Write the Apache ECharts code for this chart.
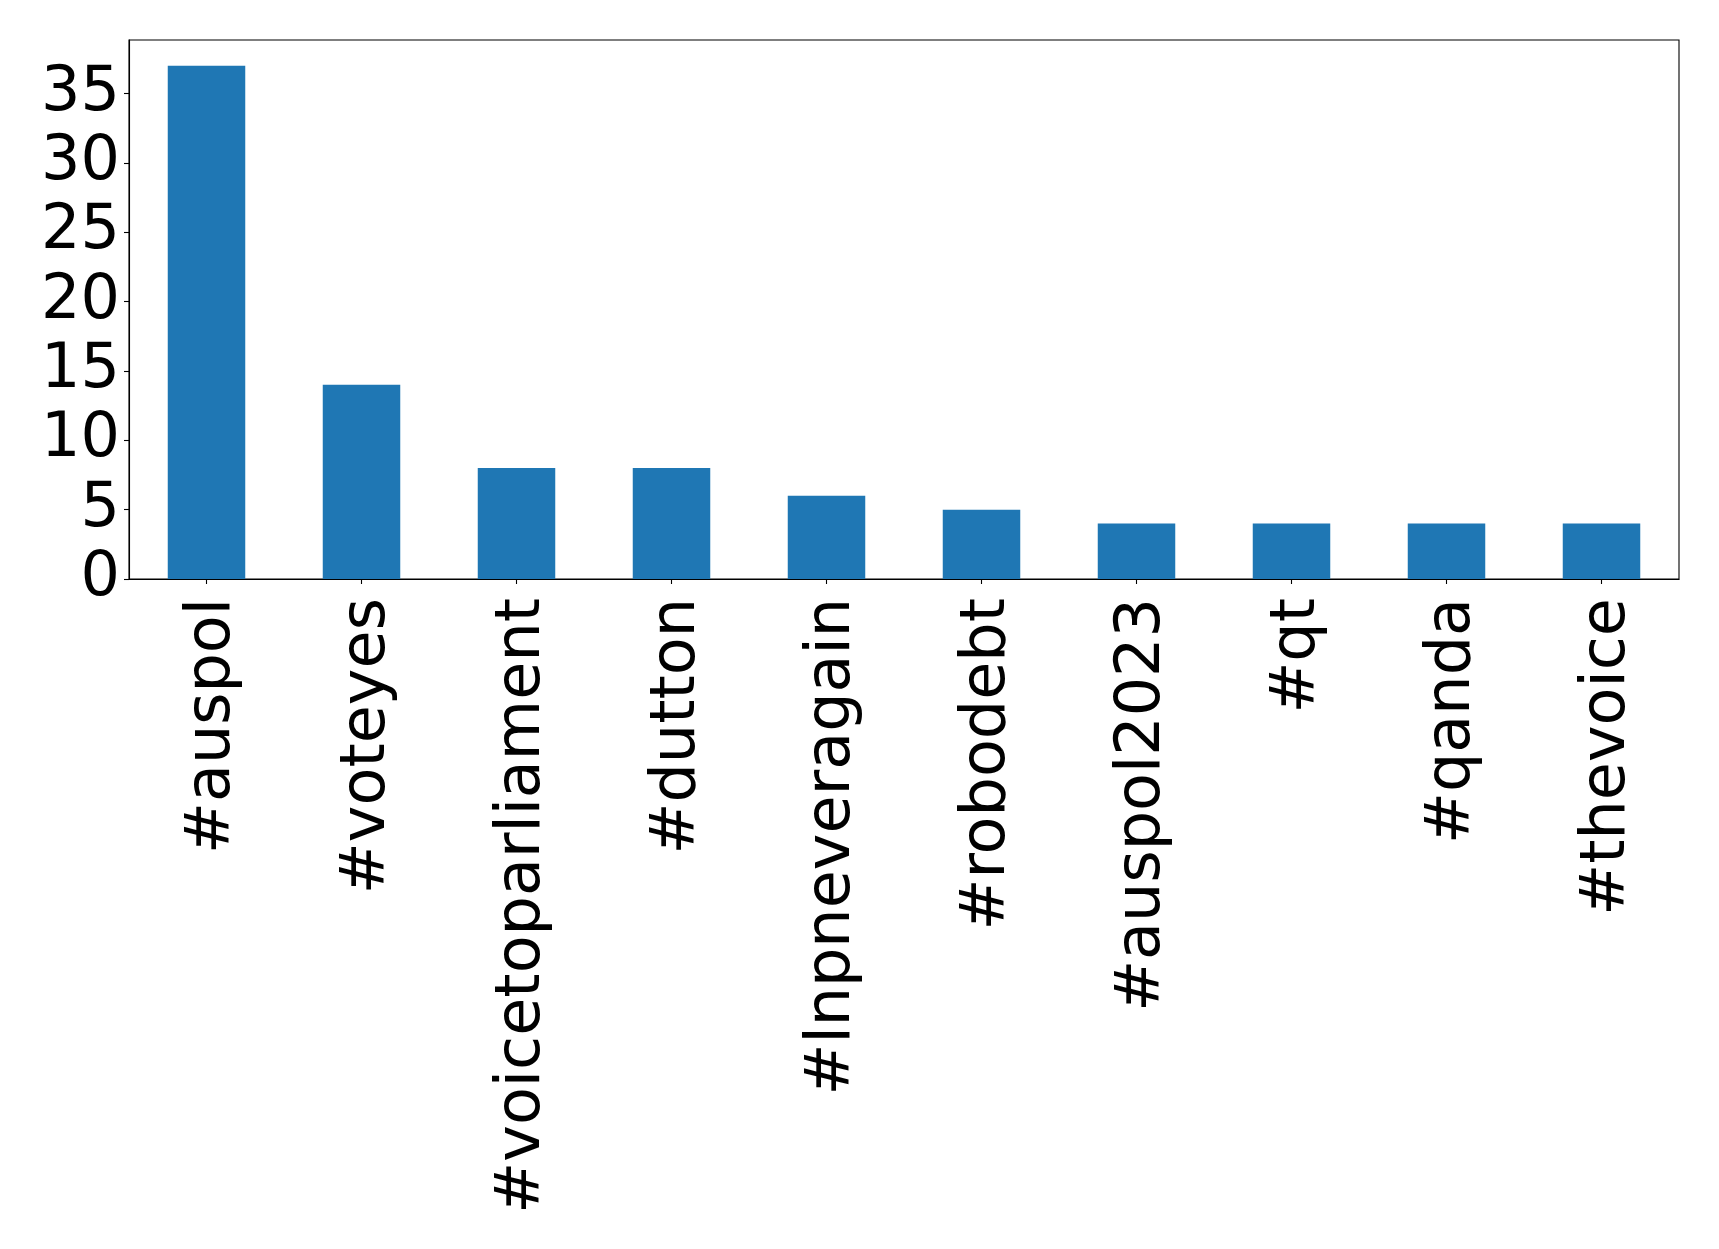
<!DOCTYPE html>
<html><head><meta charset="utf-8">
<script src="https://cdn.jsdelivr.net/npm/echarts@6/dist/echarts.min.js"></script>
<style>html,body{margin:0;padding:0;background:#fff}#c{width:1719px;height:1249px}</style>
</head><body><div id="c"></div>
<script>
const categories = ["#auspol","#voteyes","#voicetoparliament","#dutton","#lnpneveragain","#robodebt","#auspol2023","#qt","#qanda","#thevoice"];
const counts = [37,14,8,8,6,5,4,4,4,4];
const yMax = 38.85;
const yInterval = 5;

const chart = echarts.init(document.getElementById('c'), null, {renderer:'canvas'});
const font = 'DejaVu Sans';
chart.setOption({
  animation:false,
  backgroundColor:'#ffffff',
  grid:{left:129,right:40,top:40,bottom:670,show:true,borderColor:'#000',borderWidth:1.1,containLabel:false},
  xAxis:{
    type:'category', data:categories, boundaryGap:true,
    axisLine:{show:true,lineStyle:{color:'#000',width:1.1}},
    axisTick:{show:true,alignWithLabel:true,length:5,lineStyle:{color:'#000',width:1.1}},
    axisLabel:{rotate:90,interval:0,margin:19,verticalAlign:'top',lineHeight:12,color:'#000',fontFamily:font,fontSize:62}
  },
  yAxis:{
    type:'value', min:0, max:yMax, interval:yInterval,
    splitLine:{show:false},
    axisLine:{show:true,lineStyle:{color:'#000',width:1.1}},
    axisTick:{show:true,length:5,lineStyle:{color:'#000',width:1.1}},
    axisLabel:{showMaxLabel:false,margin:9,color:'#000',fontFamily:font,fontSize:62}
  },
  series:[{type:'bar',data:counts,barWidth:'50%',itemStyle:{color:'#1f77b4'}}]
});
</script></body></html>
